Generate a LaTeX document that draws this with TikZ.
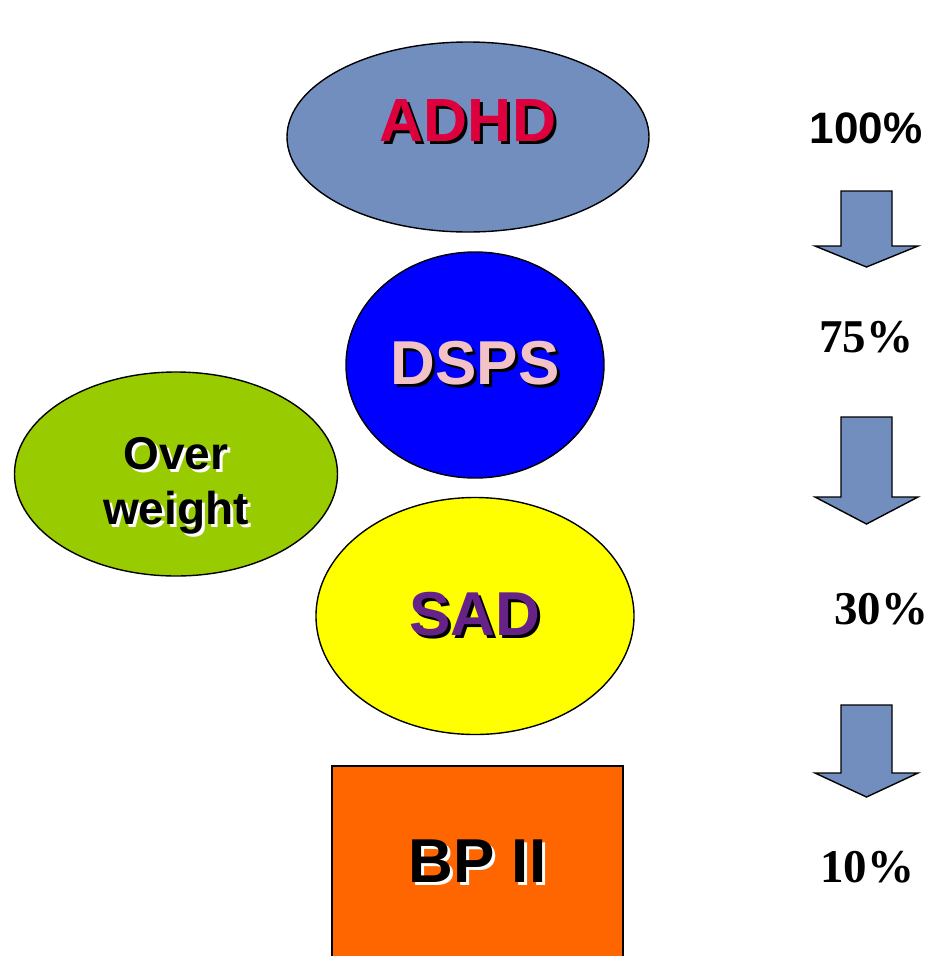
\documentclass[tikz,border=0pt]{standalone}
\usepackage{fontspec}
\setmainfont{Liberation Serif}
\setsansfont{Liberation Sans}
\usetikzlibrary{shapes.geometric}
\definecolor{steel}{RGB}{114,142,191}
\definecolor{adhdred}{RGB}{221,0,61}
\definecolor{dspsblue}{RGB}{0,0,255}
\definecolor{dspspink}{RGB}{242,194,198}
\definecolor{overgreen}{RGB}{153,204,0}
\definecolor{sadyellow}{RGB}{255,255,0}
\definecolor{sadpurple}{RGB}{102,34,136}
\definecolor{bporange}{RGB}{255,102,0}
\tikzstyle{bubble} = [ellipse, draw = black, line width=1.4pt, inner sep=0pt, text centered, font=\sffamily\bfseries\fontsize{62}{70}\selectfont]
\tikzstyle{box} = [rectangle, draw = black, line width=1.4pt, inner sep=0pt, text centered, font=\sffamily\bfseries\fontsize{62}{70}\selectfont]
\tikzstyle{percent} = [inner sep=0pt, font=\bfseries\fontsize{47}{50}\selectfont]
\tikzstyle{downarrow} = [draw = black, line width=1.4pt, fill = steel, line join=miter]
\newcommand{\shadowed}[3]{\rlap{\hspace{3pt}\raisebox{-3pt}{\textcolor{#2}{#3}}}\textcolor{#1}{#3}}

\begin{document}
\begin{tikzpicture}[x=1pt, y=-1pt]
	\useasboundingbox (0,0) rectangle (931,956);
	\clip (0,0) rectangle (931,956);
	\node (adhd) [bubble, fill = steel, minimum width=362pt, minimum height=190pt, text depth=32pt, font=\sffamily\bfseries\fontsize{61}{70}\selectfont] at (468,137) {\shadowed{adhdred}{black}{ADHD}};
	\node (dsps) [bubble, fill = dspsblue, minimum width=258pt, minimum height=226pt] at (475,365) {\shadowed{dspspink}{black}{DSPS}};
	\node (over) [bubble, fill = overgreen, minimum width=323pt, minimum height=204pt, font=\sffamily\bfseries\fontsize{46}{55}\selectfont] at (176,474) {\raisebox{-18pt}[0pt][0pt]{\begin{tabular}{@{}c@{}}\shadowed{black}{white}{Over}\\\shadowed{black}{white}{weight}\end{tabular}}};
	\node (sad) [bubble, fill = sadyellow, minimum width=318pt, minimum height=237pt] at (475,616) {\shadowed{sadpurple}{black}{SAD}};
	\node (bp) [box, fill = bporange, minimum width=291pt, minimum height=194pt] at (477.5,863) {\shadowed{black}{white}{BP II}};

	\node (p100) [percent, font=\sffamily\bfseries\fontsize{44}{48}\selectfont] at (866,128) {100\%};
	\node (p75) [percent] at (866,337) {75\%};
	\node (p30) [percent] at (881,609) {30\%};
	\node (p10) [percent] at (867,867) {10\%};

	% block arrows between the percentages
	\foreach \top/\neck/\tip in {191/246/267, 417/497/524, 705/773/797}
		\draw [downarrow] (841,\top) -- (892,\top) -- (892,\neck) -- (918,\neck) -- (866.5,\tip) -- (815,\neck) -- (841,\neck) -- cycle;
\end{tikzpicture}
\end{document}
